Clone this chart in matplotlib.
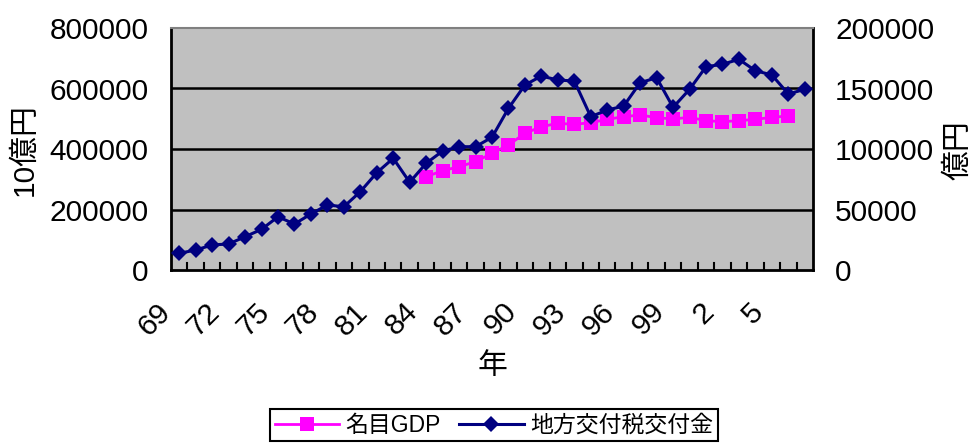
import numpy as np
import matplotlib
matplotlib.use("Agg")
import matplotlib.pyplot as plt
import matplotlib.transforms as mtransforms
from matplotlib.ticker import FixedLocator

# 1969 - 2007
years = list(range(1969, 2008))
year_labels = [str(y % 100) for y in years]

# 名目GDP (10億円), 1984 - 2006
gdp = [np.nan] * 15 + [
    308500, 328300, 341600, 358100, 385700, 413200, 451900, 473800,
    484800, 481500, 487000, 498000, 506800, 512400, 503600, 499200,
    504700, 493700, 490400, 493700, 498000, 504700, 509100,
] + [np.nan]

# 地方交付税交付金 (億円)
koufukin = [
    13800, 16500, 20700, 21500, 27500, 33600, 44000, 38000, 46300, 53700,
    52300, 64700, 80400, 92300, 72500, 88200, 98300, 101900, 101900, 109700,
    133600, 152900, 160300, 157000, 156200, 126700, 132200, 135500, 154800,
    158900, 134400, 149300, 168000, 170000, 174100, 164700, 161200, 145500,
    149300,
]

LATIN = "Liberation Sans"
JP = "Noto Sans CJK JP"
fam = [LATIN, JP]
FS = 21.5

fig = plt.figure(figsize=(9.74, 4.44), dpi=100)
ax = fig.add_axes([171 / 974, 1 - 270 / 444, 642 / 974, 242 / 444])
ax2 = ax.twinx()

x = np.arange(len(years))
ax.set_facecolor("#C0C0C0")
ax.set_zorder(0)
ax2.set_zorder(1)
ax2.patch.set_visible(False)

ax.set_xlim(-0.5, len(years) - 0.5)
ax.set_ylim(0, 800000)
ax2.set_ylim(0, 200000)

# 横のグリッド線
for v in [200000, 400000, 600000]:
    ax.axhline(v, color="black", lw=1.8, zorder=1)

l1, = ax2.plot(x, np.array(gdp) / 4, color="#FF00FF", lw=2, marker="s",
               markersize=10.5, markeredgewidth=0, label="名目GDP", zorder=3)
l2, = ax2.plot(x, koufukin, color="#000080", lw=2.2, marker="D",
               markersize=8.3, markeredgewidth=0, label="地方交付税交付金", zorder=4)

# 目盛り
ax.set_yticks([0, 200000, 400000, 600000, 800000])
ax.set_yticklabels(["0", "200000", "400000", "600000", "800000"],
                   family=LATIN, fontsize=FS)
ax.tick_params(axis="y", length=0, pad=16)
ax2.set_yticks([0, 50000, 100000, 150000, 200000])
ax2.set_yticklabels(["0", "50000", "100000", "150000", "200000"],
                    family=LATIN, fontsize=FS)
ax2.tick_params(axis="y", length=0, pad=16)

ax.xaxis.set_major_locator(FixedLocator(np.arange(0, len(years), 3)))
ax.set_xticklabels([year_labels[i] for i in range(0, len(years), 3)],
                   family=LATIN, fontsize=FS, rotation=45, ha="right",
                   rotation_mode="anchor", va="center")
ax.tick_params(axis="x", length=0, pad=27)
shift = mtransforms.ScaledTranslation(-13 / 100, 0, fig.dpi_scale_trans)
for lab in ax.get_xticklabels():
    lab.set_transform(lab.get_transform() + shift)
ax2.tick_params(axis="x", length=0)
# 区切りの目盛り (内向き)
for b in np.arange(0.5, len(years) - 0.5, 1):
    ax.plot([b, b], [0, 24000], color="black", lw=1.5, zorder=2,
            clip_on=False)

for s in ["left", "bottom", "right"]:
    ax2.spines[s].set_color("black")
    ax2.spines[s].set_linewidth(2)
ax2.spines["top"].set_color("#808080")
ax2.spines["top"].set_linewidth(1.5)
for s in ax.spines.values():
    s.set_visible(False)

fig.text(25 / 974, 1 - 150 / 444, "10億円", rotation=90, ha="center",
         va="center", family=fam, fontsize=FS)
fig.text(958 / 974, 1 - 150 / 444, "億円", rotation=90, ha="center",
         va="center", family=fam, fontsize=FS)
fig.text(492 / 974, 1 - 366 / 444, "年", ha="center", va="center",
         family=fam, fontsize=FS)

leg = fig.legend(handles=[l1, l2], loc="upper center", ncol=2,
                 bbox_to_anchor=(494 / 974, 1 - 409 / 444),
                 borderaxespad=0,
                 prop={"family": fam, "size": 16.5}, handlelength=2.8,
                 columnspacing=0.8, handletextpad=0.3, borderpad=0.2,
                 fancybox=False, framealpha=1, edgecolor="black")
leg.get_frame().set_linewidth(1.5)

fig.savefig("out.png", dpi=100)
